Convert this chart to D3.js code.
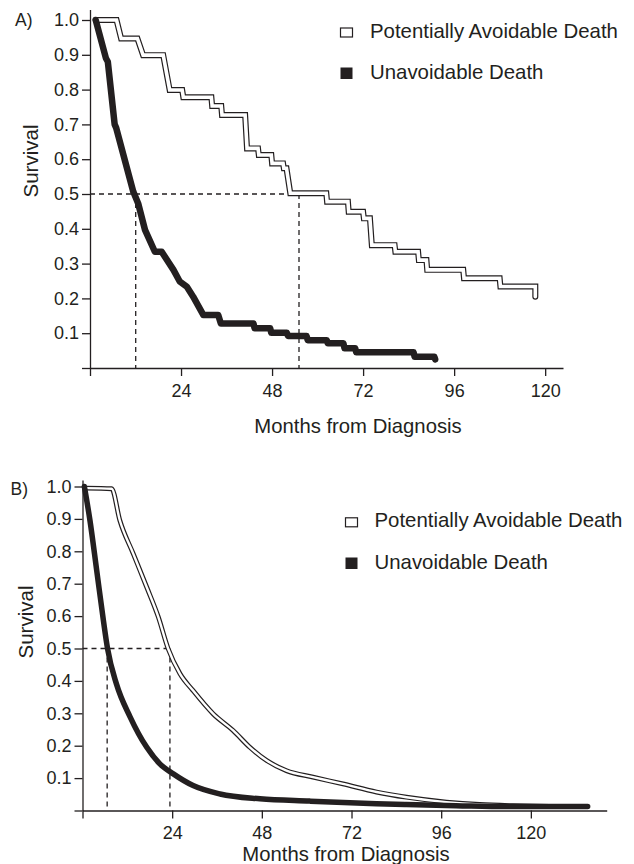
<!DOCTYPE html>
<html>
<head>
<meta charset="utf-8">
<script src="https://cdn.jsdelivr.net/npm/d3@7"></script>
<style>
  body { margin: 0; background: #fff; }
  svg { display: block; }
</style>
</head>
<body>
<svg id="chart"></svg>
<script>
const width = 634;
const height = 864;

// labels
const seriesNames = ["Potentially Avoidable Death", "Unavoidable Death"];
const panelLabels = ["A)", "B)"];
const xTitle = "Months from Diagnosis";
const yTitle = "Survival";
const xTicks = [0, 24, 48, 72, 96, 120];
const yTicks = [0, 0.1, 0.2, 0.3, 0.4, 0.5, 0.6, 0.7, 0.8, 0.9, 1.0];

// panel A - Kaplan-Meier path vertices
const aAvoidMonths = [1.5, 7.0, 8.2, 12.5, 14.0, 19.3, 21.0, 24.3, 24.6, 32.0, 32.2, 34.6, 34.8, 40.9, 41.4, 44.3, 44.5, 47.8, 48.0, 50.9, 51.1, 51.8, 52.8, 62.3, 62.5, 68.0, 68.2, 72.0, 72.2, 73.8, 74.3, 80.3, 80.5, 86.5, 86.7, 88.7, 88.9, 98.4, 98.6, 108.0, 108.2, 117.4, 117.4];
const aAvoidSurv = [1.0, 1.0, 0.947, 0.947, 0.899, 0.899, 0.799, 0.799, 0.778, 0.778, 0.753, 0.753, 0.727, 0.727, 0.631, 0.631, 0.612, 0.612, 0.588, 0.588, 0.574, 0.574, 0.502, 0.502, 0.478, 0.478, 0.449, 0.449, 0.43, 0.43, 0.353, 0.353, 0.334, 0.334, 0.31, 0.31, 0.282, 0.282, 0.258, 0.258, 0.234, 0.234, 0.205];

const aUnavMonths = [1.5, 4.2, 4.7, 6.5, 6.9, 11.4, 12.7, 14.5, 17.1, 18.9, 22.0, 23.7, 25.5, 27.2, 29.9, 33.8, 34.5, 43.1, 43.4, 47.5, 47.8, 51.9, 52.2, 57.1, 57.4, 62.4, 62.7, 66.8, 67.1, 69.9, 70.2, 85.3, 85.6, 90.8, 91.0];
const aUnavSurv = [1.0, 0.89, 0.88, 0.70, 0.69, 0.507, 0.473, 0.397, 0.334, 0.334, 0.282, 0.248, 0.234, 0.205, 0.152, 0.152, 0.128, 0.128, 0.114, 0.114, 0.101, 0.101, 0.092, 0.092, 0.080, 0.080, 0.071, 0.071, 0.057, 0.057, 0.045, 0.045, 0.032, 0.032, 0.025];

const aMedians = [12.05, 55.1];

// panel B - smooth curves
const bAvoidMonths = [1.0, 7.8, 10.0, 13.6, 17.2, 20.3, 22.9, 26.1, 29.6, 35.0, 40.3, 44.8, 49.3, 54.6, 61.7, 69.7, 78.7, 86.7, 97.4, 106.3, 115.2, 125.0];
const bAvoidSurv = [0.995, 0.993, 0.895, 0.792, 0.689, 0.597, 0.50, 0.422, 0.370, 0.298, 0.247, 0.195, 0.154, 0.123, 0.103, 0.082, 0.057, 0.041, 0.026, 0.0185, 0.015, 0.013];

const bUnavMonths = [0.5, 2.0, 3.8, 5.6, 6.7, 9.1, 12.7, 17.2, 20.7, 24.3, 29.6, 36.8, 47.5, 60.8, 78.7, 86.7, 100.0, 113.4, 135.2];
const bUnavSurv = [1.0, 0.895, 0.741, 0.586, 0.50, 0.39, 0.29, 0.195, 0.144, 0.113, 0.077, 0.051, 0.036, 0.029, 0.021, 0.0185, 0.015, 0.012, 0.012];

const bMedians = [6.6, 23.4];

const ink = "#231f20";
const font = "'Liberation Sans', Arial, Helvetica, sans-serif";

const svg = d3.select("#chart")
  .attr("width", width)
  .attr("height", height)
  .style("font-family", font);

const zip = (m, s) => m.map((d, i) => ({ t: d, s: s[i] }));

const panels = [
  {
    label: panelLabels[0], labelPos: [15, 26],
    xMax: 124.7, xRange: [90, 563],
    yMax: 1.03, y0: 368, yPx: 348,
    curve: d3.curveLinear,
    avoid: zip(aAvoidMonths, aAvoidSurv), unav: zip(aUnavMonths, aUnavSurv),
    medians: aMedians,
    avoidW: [6, 3.6], unavW: 6.5,
    legend: { box: 340.5, text: 370, base: [37.5, 79] },
    titleX: 358, titleY: 433,
    yTitlePos: [38, 161]
  },
  {
    label: panelLabels[1], labelPos: [10.5, 495],
    xMax: 140.3, xRange: [82.5, 606.7],
    yMax: 1.02, y0: 810.5, yPx: 324,
    curve: d3.curveMonotoneX,
    avoid: zip(bAvoidMonths, bAvoidSurv), unav: zip(bUnavMonths, bUnavSurv),
    medians: bMedians,
    avoidW: [4.8, 2.4], unavW: 5.5,
    legend: { box: 345.5, text: 374.5, base: [527.3, 569] },
    titleX: 346, titleY: 861,
    yTitlePos: [33, 622]
  }
];

panels.forEach(p => {
  const g = svg.append("g");

  const x = d3.scaleLinear().domain([0, p.xMax]).range(p.xRange);
  const y = d3.scaleLinear().domain([0, p.yMax]).range([p.y0, p.y0 - p.yMax * p.yPx]);

  // axes
  const xAxis = d3.axisBottom(x)
    .tickValues(xTicks)
    .tickSize(8)
    .tickSizeOuter(0)
    .tickPadding(8)
    .tickFormat(d => d === 0 ? "" : d);

  const yAxis = d3.axisLeft(y)
    .tickValues(yTicks)
    .tickSize(8)
    .tickSizeOuter(0)
    .tickPadding(3)
    .tickFormat(d => d === 0 ? "" : d3.format(".1f")(d));

  [g.append("g").attr("transform", `translate(0,${y(0)})`).call(xAxis),
   g.append("g").attr("transform", `translate(${x(0)},0)`).call(yAxis)]
    .forEach(a => {
      a.selectAll("path, line").attr("stroke", ink).attr("stroke-width", 1.3);
      a.selectAll("text").attr("fill", ink).style("font-family", font).style("font-size", "18px");
    });

  // dashed medians
  const dash = g.append("g")
    .attr("fill", "none")
    .attr("stroke", ink)
    .attr("stroke-width", 1.3)
    .attr("stroke-dasharray", "5,4");

  dash.append("line")
    .attr("x1", x(0)).attr("x2", x(d3.max(p.medians)))
    .attr("y1", y(0.5)).attr("y2", y(0.5));

  dash.selectAll(".vm")
    .data(p.medians).enter().append("line")
    .attr("x1", d => x(d)).attr("x2", d => x(d))
    .attr("y1", y(0.5)).attr("y2", y(0));

  const line = d3.line()
    .x(d => x(d.t))
    .y(d => y(d.s))
    .curve(p.curve);

  // avoidable: double outline
  g.append("path")
    .attr("d", line(p.avoid))
    .attr("fill", "none")
    .attr("stroke", ink)
    .attr("stroke-width", p.avoidW[0])
    .attr("stroke-linecap", "round");
  g.append("path")
    .attr("d", line(p.avoid))
    .attr("fill", "none")
    .attr("stroke", "#fff")
    .attr("stroke-width", p.avoidW[1])
    .attr("stroke-linecap", "round");

  // unavoidable: thick solid
  g.append("path")
    .attr("d", line(p.unav))
    .attr("fill", "none")
    .attr("stroke", ink)
    .attr("stroke-width", p.unavW)
    .attr("stroke-linecap", "round")
    .attr("stroke-linejoin", "round");

  // legend
  const leg = g.selectAll(".leg")
    .data(seriesNames).enter().append("g");

  leg.append("rect")
    .attr("x", p.legend.box)
    .attr("y", (d, i) => p.legend.base[i] - (i === 0 ? 9.5 : 11.5))
    .attr("width", 12)
    .attr("height", (d, i) => i === 0 ? 9 : 11.5)
    .attr("fill", (d, i) => i === 0 ? "#fff" : ink)
    .attr("stroke", ink)
    .attr("stroke-width", (d, i) => i === 0 ? 1.2 : 0);

  leg.append("text")
    .attr("x", p.legend.text)
    .attr("y", (d, i) => p.legend.base[i])
    .attr("fill", ink)
    .style("font-size", "20.4px")
    .text(d => d);

  // titles
  g.append("text")
    .attr("x", p.titleX)
    .attr("y", p.titleY)
    .attr("text-anchor", "middle")
    .attr("fill", ink)
    .style("font-size", "20.3px")
    .text(xTitle);

  g.append("text")
    .attr("transform", `translate(${p.yTitlePos[0]},${p.yTitlePos[1]}) rotate(-90)`)
    .attr("text-anchor", "middle")
    .attr("fill", ink)
    .style("font-size", "20.5px")
    .text(yTitle);

  g.append("text")
    .attr("x", p.labelPos[0])
    .attr("y", p.labelPos[1])
    .attr("fill", ink)
    .style("font-size", "17.5px")
    .text(p.label);
});
</script>
</body>
</html>
